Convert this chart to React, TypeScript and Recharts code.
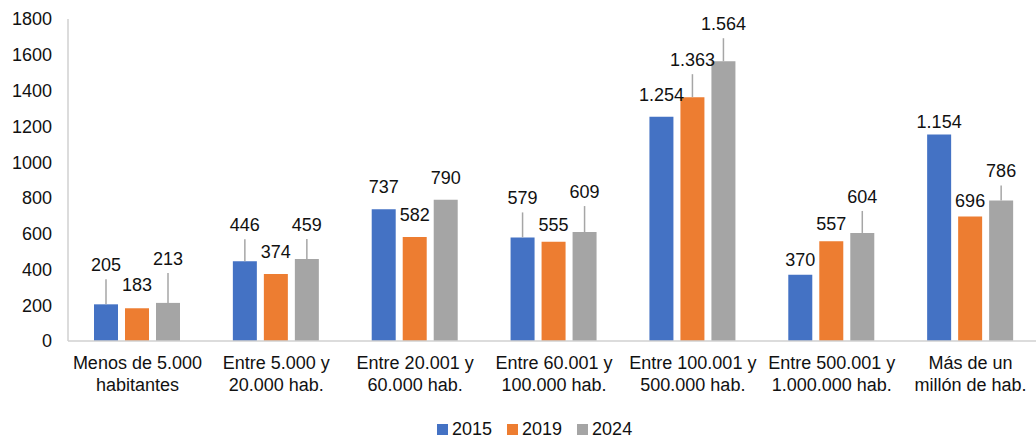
import React from 'react';
import { BarChart, Bar, XAxis, YAxis, Legend, LabelList } from 'recharts';

const CATEGORIES = [
  'Menos de 5.000\nhabitantes',
  'Entre 5.000 y\n20.000 hab.',
  'Entre 20.001 y\n60.000 hab.',
  'Entre 60.001 y\n100.000 hab.',
  'Entre 100.001 y\n500.000 hab.',
  'Entre 500.001 y\n1.000.000 hab.',
  'Más de un\nmillón de hab.',
];
const V2015 = [205, 446, 737, 579, 1254, 370, 1154];
const V2019 = [183, 374, 582, 555, 1363, 557, 696];
const V2024 = [213, 459, 790, 609, 1564, 604, 786];
const Y_TICKS = [0, 200, 400, 600, 800, 1000, 1200, 1400, 1600, 1800];

// how far each data label sits above its bar (px); labels were dragged by hand in the original
const LIFT_2015 = [39, 36, 22, 39, 22, 15, 13];
const LIFT_2019 = [23, 22, 22, 17, 37, 17, 15];
const LIFT_2024 = [44, 34, 22, 40, 37, 36, 29];

const FONT = '"Liberation Sans", Arial, sans-serif';
const TEXT = '#111';
const AXIS = '#D0D0D0';

const SERIES = [
  { key: 'y2015', name: '2015', color: '#4472C4', lift: LIFT_2015 },
  { key: 'y2019', name: '2019', color: '#ED7D31', lift: LIFT_2019 },
  { key: 'y2024', name: '2024', color: '#A5A5A5', lift: LIFT_2024 },
];

const data = CATEGORIES.map((c, i) => ({
  cat: c,
  y2015: V2015[i],
  y2019: V2019[i],
  y2024: V2024[i],
}));

const fmt = (v: number) => String(v).replace(/\B(?=(\d{3})+(?!\d))/g, '.');

const makeLabel = (lift: number[]) => (props: any) => {
  const x = Number(props.x);
  const top = Number(props.y);
  const cx = x + Number(props.width) / 2;
  const d = lift[props.index];
  const ly = top - d;
  return (
    <g>
      {d > 26 && (
        <line x1={cx} x2={cx} y1={ly + 14} y2={top} stroke="#A6A6A6" strokeWidth={1.5} />
      )}
      <text x={cx} y={ly} textAnchor="middle" dominantBaseline="central"
        fontSize={18} fontFamily={FONT} fill={TEXT}>
        {fmt(Number(props.value))}
      </text>
    </g>
  );
};

const CatTick = ({ x, y, payload }: any) => {
  const lines = String(payload.value).split('\n');
  return (
    <g>
      {lines.map((l, i) => (
        <text key={i} x={x} y={y + 22 + i * 21.5} textAnchor="middle" dominantBaseline="central"
          fontSize={18} fontFamily={FONT} fill={TEXT}>
          {l}
        </text>
      ))}
    </g>
  );
};

const LegendBox = () => (
  <div style={{ display: 'flex', alignItems: 'center', height: 22, paddingLeft: 437, fontFamily: FONT, fontSize: 18, color: TEXT }}>
    {SERIES.map(s => (
      <div key={s.key} style={{ display: 'flex', alignItems: 'center', marginRight: 15 }}>
        <span style={{ width: 11, height: 11, background: s.color, display: 'inline-block', marginRight: 4 }} />
        <span>{s.name}</span>
      </div>
    ))}
  </div>
);

export default function App() {
  return (
    <div style={{ width: 1036, height: 440, overflow: 'hidden', background: '#fff' }}>
      <style>{'body{margin:0;overflow:hidden}'}</style>
      <BarChart width={1040} height={440} data={data} barSize={24} barGap={7}
        margin={{ top: 19, right: 0, bottom: 0, left: 0 }}>
        <XAxis dataKey="cat" tick={<CatTick />} tickLine={false} tickSize={0} tickMargin={0}
          height={77} interval={0} axisLine={{ stroke: AXIS, strokeWidth: 1.5 }} />
        <YAxis domain={[0, 1800]} ticks={Y_TICKS} width={68} tickLine={false} tickSize={0} tickMargin={16}
          axisLine={{ stroke: AXIS, strokeWidth: 1.5 }}
          tick={{ fontSize: 18, fontFamily: FONT, fill: TEXT }} />
        <Legend verticalAlign="bottom" content={<LegendBox />} wrapperStyle={{ left: 0, width: 1040, bottom: 0 }} />
        {SERIES.map(s => (
          <Bar key={s.key} dataKey={s.key} name={s.name} fill={s.color} isAnimationActive={false}>
            <LabelList dataKey={s.key} content={makeLabel(s.lift)} />
          </Bar>
        ))}
      </BarChart>
    </div>
  );
}
